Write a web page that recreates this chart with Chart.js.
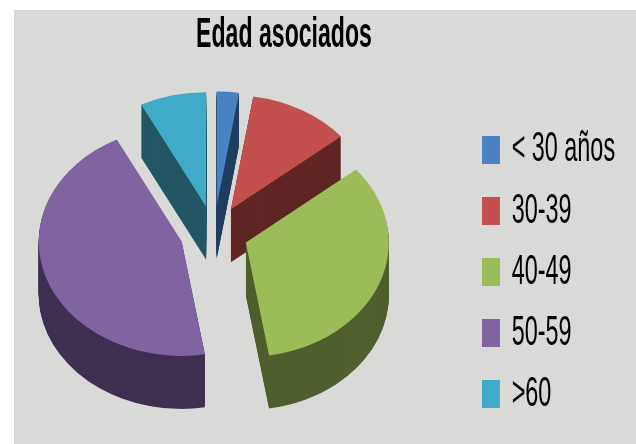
<!DOCTYPE html>
<html>
<head>
<meta charset="utf-8">
<script src="https://cdn.jsdelivr.net/npm/chart.js@4"></script>
<style>
  html, body { margin: 0; background: #fff; }
  #wrap { position: absolute; left: 14px; top: 10px; width: 622px; height: 434px; background: #d9d9d8; }
</style>
</head>
<body>
<div id="wrap"><canvas id="chart" width="622" height="434"></canvas></div>
<script>
const titleText = "Edad asociados";
const categories = ["< 30 años", "30-39", "40-49", "50-59", ">60"];
const shares = [2.5, 11.5, 33.4, 45.1, 7.5];
const faceColors = ["#4a81c0", "#c4504d", "#9cbb59", "#8064a2", "#3fabc8"];
const wallColors = ["#213f62", "#5f2625", "#4f5f2d", "#3f3051", "#235663"];

// look of the tilted pie
const explode = 34;
const tilt = 0.8;
const depth = 53;
const pieCenter = { x: 200, y: 223 };

// the picture's text is stretched tall, so title and legend get their own transform
function stretchBox(box, sx, sy, anchorX, anchorY, targetX, targetY) {
  const draw = box.draw.bind(box);
  box.draw = (...args) => {
    const ctx = box.ctx;
    ctx.save();
    ctx.translate(targetX, targetY);
    ctx.scale(sx, sy);
    ctx.translate(-anchorX(), -anchorY());
    draw(...args);
    ctx.restore();
  };
}

const stretchText = {
  id: "stretchText",
  afterInit(chart) {
    const t = chart.titleBlock, l = chart.legend;
    stretchBox(t, 0.77, 1.4, () => (t.left + t.right) / 2, () => (t.top + t.bottom) / 2, 270, 25);
    stretchBox(l, 0.78, 1.4, () => l.left + l.options.labels.padding, () => (l.top + l.bottom) / 2, 468, 262);
  }
};

const pie3d = {
  id: "pie3d",
  beforeDatasetsDraw(chart) {
    const ctx = chart.ctx;
    const arcs = chart.getDatasetMeta(0).data.map((arc, i) => {
      const mid = (arc.startAngle + arc.endAngle) / 2;
      return { arc, i, mid, dx: Math.cos(mid) * explode, dy: Math.sin(mid) * explode };
    });
    const backToFront = arcs.slice().sort((a, b) => a.dy - b.dy);

    ctx.save();
    ctx.translate(pieCenter.x, pieCenter.y);
    ctx.scale(1, tilt);
    ctx.translate(-arcs[0].arc.x, -arcs[0].arc.y);

    backToFront.forEach(s => {
      const a = s.arc;
      ctx.fillStyle = wallColors[s.i];
      for (let d = depth; d > 0; d--) {
        ctx.beginPath();
        ctx.moveTo(a.x + s.dx, a.y + s.dy + d / tilt);
        ctx.arc(a.x + s.dx, a.y + s.dy + d / tilt, a.outerRadius, a.startAngle, a.endAngle);
        ctx.closePath();
        ctx.fill();
      }
    });

    arcs.forEach(s => {
      ctx.save();
      ctx.translate(s.dx, s.dy);
      s.arc.draw(ctx);
      ctx.restore();
    });
    ctx.restore();
    return false;
  }
};

new Chart(document.getElementById("chart"), {
  type: "pie",
  plugins: [stretchText, pie3d],
  data: {
    labels: categories,
    datasets: [{
      data: shares,
      backgroundColor: faceColors,
      borderWidth: 0,
      radius: 143,
      clip: false
    }]
  },
  options: {
    responsive: false,
    animation: false,
    layout: { padding: 0 },
    plugins: {
      tooltip: { enabled: false },
      title: {
        display: true,
        text: titleText,
        color: "#000",
        font: { family: "'Liberation Sans'", size: 30, weight: "bold" }
      },
      legend: {
        position: "right",
        labels: {
          color: "#000",
          boxWidth: 23,
          boxHeight: 20,
          padding: 13.6,
          font: { family: "'Liberation Sans'", size: 30 }
        }
      }
    }
  }
});
</script>
</body>
</html>
